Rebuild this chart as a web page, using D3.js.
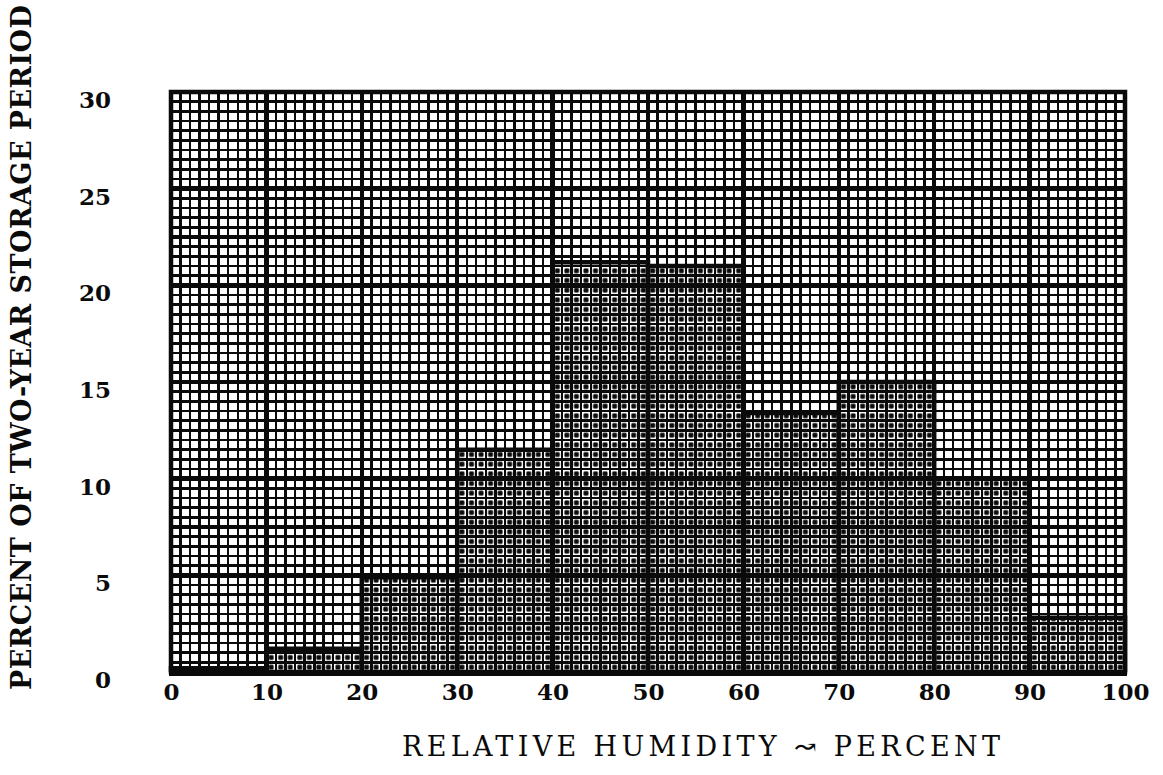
<!DOCTYPE html>
<html>
<head>
<meta charset="utf-8">
<script src="https://cdn.jsdelivr.net/npm/d3@7"></script>
<style>
  html, body { margin: 0; padding: 0; background: #fff; }
  svg { display: block; }
</style>
</head>
<body>
<svg id="chart" width="1163" height="775"></svg>
<script>
// Relative humidity classes (lower edge of each 10 % band)
const binStarts = [0, 10, 20, 30, 40, 50, 60, 70, 80, 90];
const binWidth = 10;
// Percent of the two-year storage period spent in each band
const percentValues = [0.2, 1.2, 4.9, 11.5, 21.2, 21.0, 13.4, 15.0, 10.0, 2.8];
// Axis tick labels
const xTickValues = [0, 10, 20, 30, 40, 50, 60, 70, 80, 90, 100];
const yTickValues = [0, 5, 10, 15, 20, 25, 30];

const xTitle = "RELATIVE HUMIDITY \u219D PERCENT";
const yTitle = "PERCENT OF TWO-YEAR STORAGE PERIOD";

const svg = d3.select("#chart");
const plot = { left: 171, right: 1125, top: 92, bottom: 672 };

const x = d3.scaleLinear().domain([0, 100]).range([plot.left, plot.right]);
const y = d3.scaleLinear().domain([0, 30]).range([plot.bottom, plot.top]);

const ink = "#0a0a0a";
const serif = "'DejaVu Serif', 'Liberation Serif', serif";

// Stipple texture used inside the histogram bars, one mark per graph-paper cell
const cellW = x(1) - x(0);
const cellH = y(0) - y(0.5);
const defs = svg.append("defs");
const pat = defs.append("pattern")
  .attr("id", "stipple")
  .attr("patternUnits", "userSpaceOnUse")
  .attr("x", plot.left).attr("y", plot.bottom)
  .attr("width", cellW).attr("height", cellH);
const cx = cellW / 2, cy = cellH / 2, r = 2.7;
pat.append("path")
  .attr("d", `M${cx - r},${cy}H${cx + r}M${cx},${cy - r}V${cy + r}` +
             `M${cx - r * 0.8},${cy - r * 0.8}L${cx + r * 0.8},${cy + r * 0.8}` +
             `M${cx - r * 0.8},${cy + r * 0.8}L${cx + r * 0.8},${cy - r * 0.8}`)
  .attr("stroke", ink).attr("stroke-width", 1.4).attr("fill", "none");

// Bars: stippled fill beneath the graph-paper grid
const bars = svg.append("g");
bars.selectAll("rect")
  .data(binStarts)
  .join("rect")
  .attr("x", d => x(d))
  .attr("width", d => x(d + binWidth) - x(d))
  .attr("y", (d, i) => y(percentValues[i]))
  .attr("height", (d, i) => y(0) - y(percentValues[i]))
  .attr("fill", "url(#stipple)");

// Graph-paper grid
const grid = svg.append("g").attr("stroke", ink).attr("shape-rendering", "crispEdges");
const xLines = d3.range(0, 101, 1);
grid.selectAll("line.v")
  .data(xLines)
  .join("line")
  .attr("class", "v")
  .attr("x1", d => x(d)).attr("x2", d => x(d))
  .attr("y1", plot.top).attr("y2", plot.bottom)
  .attr("stroke-width", d => d % 10 === 0 ? 4.5 : (d % 5 === 0 ? 2.8 : 2.4));
const yLines = d3.range(0, 61, 1).map(k => k / 2);
grid.selectAll("line.h")
  .data(yLines)
  .join("line")
  .attr("class", "h")
  .attr("x1", plot.left).attr("x2", plot.right)
  .attr("y1", d => y(d)).attr("y2", d => y(d))
  .attr("stroke-width", d => d % 5 === 0 ? 4.5 : (d % 2.5 === 0 ? 3.2 : 2.4));

// Heavy outline of each bar
const outlines = svg.append("g").attr("fill", "none").attr("stroke", ink);
outlines.selectAll("path")
  .data(binStarts)
  .join("path")
  .attr("d", (d, i) => {
    const x0 = x(d), x1 = x(d + binWidth), yt = y(percentValues[i]), yb = y(0);
    return `M${x0},${yb}V${yt}H${x1}V${yb}`;
  })
  .attr("stroke-width", 4.5);

// Frame around the plotting area
svg.append("rect")
  .attr("x", plot.left).attr("y", plot.top)
  .attr("width", plot.right - plot.left).attr("height", plot.bottom - plot.top)
  .attr("fill", "none").attr("stroke", ink).attr("stroke-width", 4.5);
svg.append("line")
  .attr("x1", plot.left - 2).attr("x2", plot.right + 2)
  .attr("y1", plot.bottom + 1).attr("y2", plot.bottom + 1)
  .attr("stroke", ink).attr("stroke-width", 6);

// Axes (labels only; the grid carries the lines)
const xAxis = d3.axisBottom(x).tickValues(xTickValues).tickSize(0).tickPadding(0);
const gx = svg.append("g").attr("transform", `translate(0,${plot.bottom + 12})`).call(xAxis);
gx.select(".domain").remove();
gx.selectAll("text")
  .attr("font-family", serif).attr("font-weight", "bold").attr("font-size", 23)
  .attr("fill", ink).attr("dy", "0.71em");

const yAxis = d3.axisLeft(y).tickValues(yTickValues).tickSize(0).tickPadding(0);
const gy = svg.append("g").attr("transform", `translate(${plot.left - 60},0)`).call(yAxis);
gy.select(".domain").remove();
gy.selectAll("text")
  .attr("font-family", serif).attr("font-weight", "bold").attr("font-size", 23)
  .attr("fill", ink).attr("dy", "0.68em");

// Axis titles
svg.append("text")
  .attr("x", 402).attr("y", 756)
  .attr("textLength", 598).attr("lengthAdjust", "spacing")
  .attr("font-family", serif).attr("font-size", 27)
  .attr("fill", ink)
  .text(xTitle);

svg.append("text")
  .attr("transform", "translate(31,690) rotate(-90)")
  .attr("x", 0).attr("y", 0)
  .attr("textLength", 685).attr("lengthAdjust", "spacing")
  .attr("font-family", serif).attr("font-weight", "bold").attr("font-size", 27)
  .attr("fill", ink)
  .text(yTitle);
</script>
</body>
</html>
